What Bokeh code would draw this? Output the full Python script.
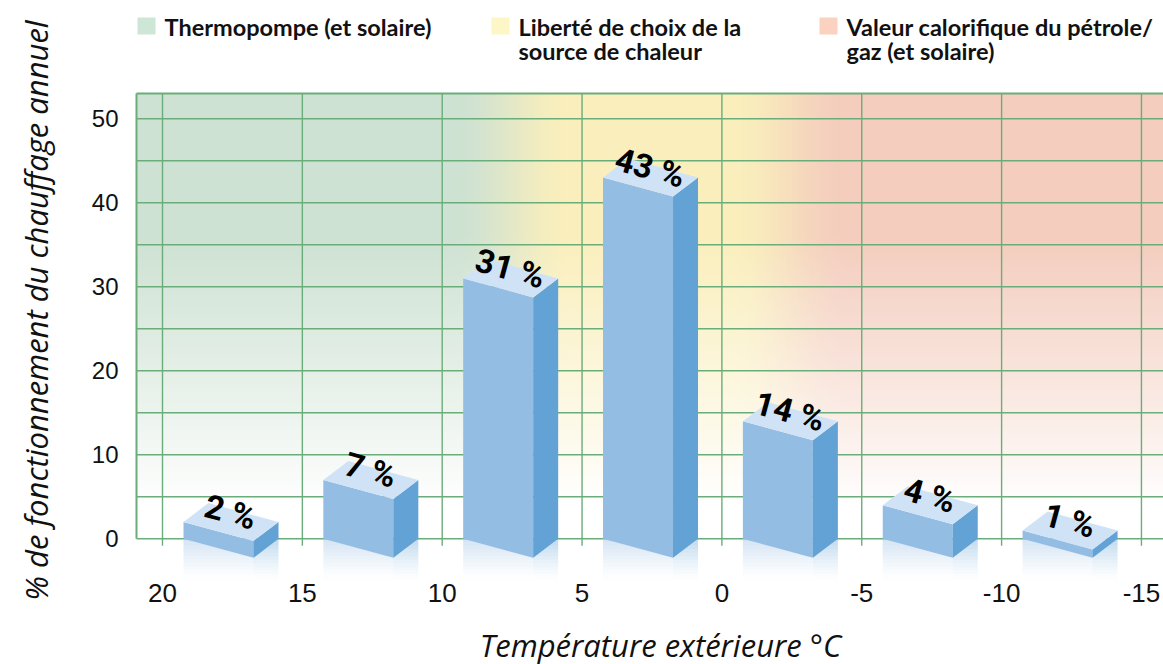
import numpy as np
from math import pi
from bokeh.plotting import figure
from bokeh.models import Range1d, FixedTicker, Label, BoxAnnotation
from bokeh.core.properties import value
from bokeh.embed import file_html
from bokeh.resources import INLINE

# ---------------- data ----------------
temp_high = [20, 15, 10, 5, 0, -5, -10]          # warm edge of each 5 °C class
shares = [2, 7, 31, 43, 14, 4, 1]                # % of annual heating operation
share_labels = ["2 %", "7 %", "31 %", "43 %", "14 %", "4 %", "1 %"]
x_ticks = [20, 15, 10, 5, 0, -5, -10, -15]
x_tick_labels = ["20", "15", "10", "5", "0", "-5", "-10", "-15"]
y_ticks = [0, 10, 20, 30, 40, 50]
grid_y = [0, 5, 10, 15, 20, 25, 30, 35, 40, 45, 50]
legend_lines = [["Thermopompe (et solaire)"],
                ["Liberté de choix de la", "source de chaleur"],
                ["Valeur calorifique du pétrole/", "gaz (et solaire)"]]
legend_colors = ["#cde6d6", "#fdf6c6", "#fad2bf"]
x_title = "Température extérieure °C"
y_title = "% de fonctionnement du chauffage annuel"

# ---------------- layout (frame = whole canvas) ----------------
W, H = 1163, 664
PX, PY = 27.97, 8.4                 # px per unit
X0 = 20 + 162 / PX                  # canvas left
X1 = X0 - W / PX                    # canvas right
Y1 = 538.3 / PY                     # canvas top
Y0 = Y1 - H / PY                    # canvas bottom
XL = 20 + (162 - 136) / PX          # left edge of the plot area
YT = (538.3 - 93) / PY              # top edge of the plot area

def dx(px):  # page pixel x -> data x
    return X0 - px / PX

def dy(py):  # page pixel y -> data y
    return Y1 - py / PY

GREEN = "#6aad7b"
FRONT, SIDE, TOP = "#94bde4", "#62a2d5", "#d0e3f6"

p = figure(width=W, height=H, x_range=Range1d(X0, X1), y_range=Range1d(Y0, Y1),
           output_backend="svg", toolbar_location=None,
           min_border_left=0, min_border_top=0, min_border_right=0, min_border_bottom=0,
           background_fill_color="white", border_fill_color="white", outline_line_color=None)
p.grid.visible = False

# ---------------- background gradient ----------------
p.extra_x_ranges = {"bg": Range1d(-136 / (W - 136), 1)}
ncol, nrow = 600, 220
temps = XL + (X1 - XL) * np.linspace(0, 1, ncol)
green = np.array([206, 226, 211], float)
yellow = np.array([250, 239, 188], float)
pink = np.array([244, 205, 190], float)
def smooth(a):
    a = np.clip(a, 0, 1)
    return a * a * (3 - 2 * a)
wy = smooth((9.7 - temps) / 4.3)[:, None]
wp = smooth((-0.3 - temps) / 4.3)[:, None]
top_col = green * (1 - wy) + yellow * wy
top_col = top_col * (1 - wp) + pink * wp
t = np.linspace(0, 1, nrow)
inten = np.clip((t - 0.08) / 0.6, 0, 1) ** 0.9
img = 255 - (255 - top_col)[None, :, :] * inten[:, None, None]
rgba = np.empty((nrow, ncol, 4), dtype=np.uint8)
rgba[..., :3] = np.clip(img, 0, 255).astype(np.uint8)
rgba[..., 3] = 255
img32 = rgba.view(dtype=np.uint32).reshape((nrow, ncol))
p.image_rgba(image=[img32], x=0, y=0, dw=1, dh=YT, x_range_name="bg", level="image")

# ---------------- grid & border ----------------
p.segment(x0=x_ticks, x1=x_ticks, y0=[-7 / PY] * len(x_ticks), y1=[YT] * len(x_ticks),
          line_color=GREEN, line_width=1.4, level="underlay")
p.segment(x0=[XL] * len(grid_y), x1=[X1] * len(grid_y), y0=grid_y, y1=grid_y,
          line_color=GREEN, line_width=1.4, level="underlay")
p.segment(x0=[XL, XL], x1=[XL, X1], y0=[0, YT], y1=[YT, YT],
          line_color=GREEN, line_width=2, level="underlay")

# ---------------- 3D bars ----------------
inset = 0.75
BW = 70 / PX
DX = 25 / PX
DY = 19 / PY
fl = [h - inset for h in temp_high]

# reflections below the base
n = 12
rl_f, rr_f, rl_s, rr_s, rt, rb, ra = [], [], [], [], [], [], []
for f in fl:
    for k in range(n):
        rl_f.append(f); rr_f.append(f - BW)
        rl_s.append(f - BW); rr_s.append(f - BW - DX)
        rt.append(-k * 5.0 / n); rb.append(-(k + 1) * 5.0 / n)
        ra.append(0.42 * (1 - (k + 0.5) / n) ** 1.3)
p.quad(left=rl_f, right=rr_f, top=rt, bottom=rb, fill_color=FRONT, fill_alpha=ra, line_color=None)
p.quad(left=rl_s, right=rr_s, top=rt, bottom=rb, fill_color=SIDE, fill_alpha=ra, line_color=None)

front_x = [[f, f, f - BW, f - BW] for f in fl]
front_y = [[0, v, v - DY, -DY] for v in shares]
side_x = [[f - BW, f - BW, f - BW - DX, f - BW - DX] for f in fl]
side_y = [[-DY, v - DY, v, 0] for v in shares]
top_x = [[f, f - BW, f - BW - DX, f - DX] for f in fl]
top_y = [[v, v - DY, v, v + DY] for v in shares]
p.patches(front_x, front_y, fill_color=FRONT, line_color=None)
p.patches(side_x, side_y, fill_color=SIDE, line_color=None)
p.patches(top_x, top_y, fill_color=TOP, line_color=None)

# value labels lying on the top faces
p.text(x=[f - 47 / PX for f in fl], y=[v + 10 / PY for v in shares], text=share_labels,
       angle=-0.265, text_font=value("Roboto"),
       text_font_style="bold", text_font_size="33px", text_align="center",
       text_baseline="middle", text_color="black")

# ---------------- axes (drawn at fixed places inside the canvas) ----------------
for ax, ticks in ((p.xaxis, x_ticks), (p.yaxis, y_ticks)):
    ax.ticker = FixedTicker(ticks=ticks)
    ax.axis_line_color = None
    ax.major_tick_line_color = None
    ax.minor_tick_line_color = None
    ax.major_tick_out = 0
    ax.major_tick_in = 0
    ax.major_label_text_font = "Liberation Sans"
    ax.major_label_text_color = "#111111"
p.xaxis.fixed_location = 0
p.xaxis.major_label_standoff = 45
p.xaxis.major_label_text_font_size = "26px"
p.xaxis.major_label_overrides = {t: s for t, s in zip(x_ticks, x_tick_labels)}
p.yaxis.fixed_location = XL
p.yaxis.major_label_standoff = 18
p.yaxis.major_label_text_font_size = "24px"

# ---------------- titles ----------------
p.add_layout(Label(x=dx(660), y=dy(644), text=x_title, text_font="Open Sans",
                   text_font_style="italic", text_font_size="31px", text_align="center",
                   text_baseline="middle", text_color="#111111"))
p.add_layout(Label(x=dx(35), y=dy(310), text=y_title, text_font="Open Sans",
                   text_font_style="italic", text_font_size="31px", text_align="center",
                   text_baseline="middle", angle=pi / 2, text_color="#111111"))

# ---------------- legend ----------------
sq_x = [137, 491, 819]
for sx, lines, col in zip(sq_x, legend_lines, legend_colors):
    p.add_layout(BoxAnnotation(left=dx(sx), right=dx(sx + 18), top=dy(17), bottom=dy(34),
                               fill_color=col, fill_alpha=1, line_color=None))
    for j, line in enumerate(lines):
        p.add_layout(Label(x=dx(sx + 27), y=dy(26 + 24 * j), text=line, text_font="Lato",
                           text_font_style="bold", text_font_size="23.5px", text_align="left",
                           text_baseline="middle", text_color="#111111"))

open("out.html", "w").write(file_html(p, INLINE))
